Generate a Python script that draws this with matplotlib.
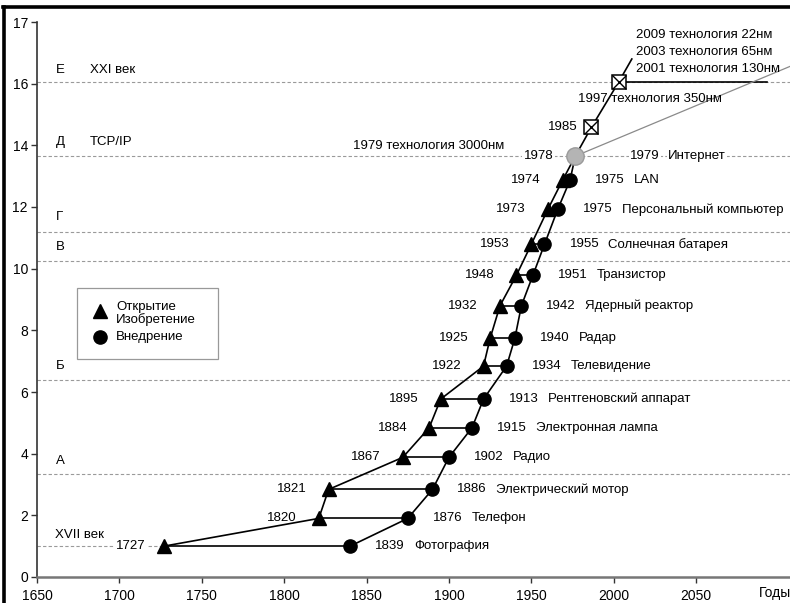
import matplotlib.pyplot as plt
from matplotlib.lines import Line2D
from matplotlib.patches import Rectangle

plt.rcParams['font.family'] = ['Liberation Sans', 'DejaVu Sans']

# discoveries / inventions (triangles)
disc_x = [1727, 1821, 1827, 1872, 1888, 1895, 1921, 1925, 1931, 1941, 1950, 1960, 1969]
disc_labels = ['1727', '1820', '1821', '1867', '1884', '1895', '1922', '1925',
               '1932', '1948', '1953', '1973', '1974']
# implementation (circles)
impl_x = [1840, 1875, 1890, 1900, 1914, 1921, 1935, 1940, 1944, 1951, 1958, 1966, 1973.5]
impl_labels = ['1839', '1876', '1886', '1902', '1915', '1913', '1934', '1940',
               '1942', '1951', '1955', '1975', '1975']
names = ['Фотография', 'Телефон', 'Электрический мотор', 'Радио', 'Электронная лампа',
         'Рентгеновский аппарат', 'Телевидение', 'Радар', 'Ядерный реактор',
         'Транзистор', 'Солнечная батарея', 'Персональный компьютер', 'LAN']
levels = [1.0, 1.9, 2.84, 3.88, 4.84, 5.77, 6.84, 7.74, 8.8, 9.79, 10.79, 11.92, 12.87]

# internet / microelectronics part
net_x = [1976.7, 1986.4, 2003, 2011]
net_y = [13.65, 14.58, 16.05, 16.8]
tech_lines = ['2009 технология 22нм', '2003 технология 65нм', '2001 технология 130нм']

# stage boundaries
stage_levels = [3.34, 6.4, 10.24, 11.2, 13.65, 16.05]
stage_names = [('Е', 'XXI век', 16.44), ('Д', 'TCP/IP', 14.1), ('Г', '', 11.68),
               ('В', '', 10.7), ('Б', '', 6.84), ('А', '', 3.76)]

fig = plt.figure(figsize=(7.9, 6.03), dpi=100)
ax = fig.add_axes([37/790, 26/603, 753/790, 555/603])
ax.set_xlim(1650, 2107)
ax.set_ylim(0, 18)

fs = 9.5
dash = (0, (3, 2))
for lv in stage_levels:
    ax.axhline(lv, color='#9a9a9a', lw=0.8, ls=dash, zorder=1)
ax.plot([1650, 1727], [1.0, 1.0], color='#9a9a9a', lw=0.8, ls=dash, zorder=1)

# chains
ax.plot(disc_x + [net_x[0]], levels + [net_y[0]], color='black', lw=1.2, zorder=2)
ax.plot(impl_x + [net_x[0]], levels + [net_y[0]], color='black', lw=1.2, zorder=2)
for a, b, lv in zip(disc_x, impl_x, levels):
    ax.plot([a, b], [lv, lv], color='black', lw=1.2, zorder=2)
ax.plot(net_x, net_y, color='black', lw=1.2, zorder=2)
ax.plot([net_x[2], 2093], [net_y[2], net_y[2]], color='black', lw=1.2, zorder=2)
ax.plot([net_x[0], 2107], [net_y[0], 16.56], color='#8a8a8a', lw=0.9, zorder=2)

ax.plot(disc_x, levels, ls='none', marker='^', ms=10.5, color='black', zorder=4)
ax.plot(impl_x, levels, ls='none', marker='o', ms=9.5, color='black', zorder=4)
ax.plot(net_x[0], net_y[0], marker='o', ms=12.5, mfc='#b4b4b4', mec='#9a9a9a', zorder=4)
ax.plot(net_x[1:3], net_y[1:3], ls='none', marker='s', ms=9.5, mfc='white', mec='black',
        mew=1.1, zorder=4)
ax.plot(net_x[1:3], net_y[1:3], ls='none', marker='x', ms=9.5, color='black', mew=1.0, zorder=5)

wb = dict(fc='white', ec='none', pad=1)
for i, (a, b, lv) in enumerate(zip(disc_x, impl_x, levels)):
    if i > 0:
        ax.annotate(disc_labels[i], (a, lv), xytext=(-22, 0), textcoords='offset pixels',
                    ha='right', va='center', fontsize=fs)
    ax.annotate(impl_labels[i], (b, lv), xytext=(25, 0),
                textcoords='offset pixels', ha='left', va='center', fontsize=fs)
    ax.annotate(names[i], (b, lv), xytext=(64, 0),
                textcoords='offset pixels', ha='left', va='center', fontsize=fs)
ax.text(1716, 1.0, disc_labels[0], ha='right', va='center', fontsize=fs, bbox=wb, zorder=3)

for i, t in enumerate(tech_lines):
    ax.text(2013.6, 17.58 - 0.55*i, t, ha='left', va='center', fontsize=fs)
ax.text(1978.5, 15.5, '1997 технология 350нм', ha='left', va='center', fontsize=fs)
ax.text(1977.9, 14.6, '1985', ha='right', va='center', fontsize=fs)
ax.text(1963.3, 13.65, '1978', ha='right', va='center', fontsize=fs, bbox=wb, zorder=3)
ax.text(1841.5, 13.98, '1979 технология 3000нм', ha='left', va='center', fontsize=fs)
ax.text(2010, 13.65, '1979', ha='left', va='center', fontsize=fs, bbox=wb, zorder=3)
ax.text(2033, 13.65, 'Интернет', ha='left', va='center', fontsize=fs, bbox=wb, zorder=3)

for letter, word, y in stage_names:
    ax.text(1661.5, y, letter, ha='left', va='center', fontsize=fs)
    if word:
        ax.text(1682, y, word, ha='left', va='center', fontsize=fs)
ax.text(1661, 1.36, 'XVII век', ha='left', va='center', fontsize=fs)

# legend drawn by hand
def fx(px):
    return px / 790

def fy(py):
    return 1 - py / 603

fig.add_artist(Rectangle((fx(77), fy(359)), fx(218) - fx(77), fy(288) - fy(359),
                         transform=fig.transFigure, fill=False, ec='#999999', lw=0.9))
fig.add_artist(Line2D([fx(100)], [fy(311)], marker='^', ms=10.5, color='black',
                      transform=fig.transFigure))
fig.add_artist(Line2D([fx(100)], [fy(337)], marker='o', ms=9.5, color='black',
                      transform=fig.transFigure))
fig.text(fx(116), fy(313.5), 'Открытие\nИзобретение', ha='left', va='center',
         fontsize=fs, linespacing=0.95)
fig.text(fx(116), fy(337), 'Внедрение', ha='left', va='center', fontsize=fs)

ax.set_xticks([1650, 1700, 1750, 1800, 1850, 1900, 1950, 2000, 2050])
ax.set_yticks([0, 2, 4, 6, 8, 10, 12, 14, 16, 18])
ax.set_yticklabels(['0', '2', '4', '6', '8', '10', '12', '14', '16', '17'])
ax.tick_params(axis='both', labelsize=10, length=4.5, width=1.0, color='#333333')
ax.tick_params(axis='x', pad=4)
ax.tick_params(axis='y', pad=2)
ax.spines['top'].set_visible(False)
ax.spines['right'].set_visible(False)
ax.spines['left'].set_color('#333333')
ax.spines['left'].set_linewidth(1.2)
ax.spines['bottom'].set_color('#777777')
ax.spines['bottom'].set_linewidth(1.8)
ax.annotate('Годы', (2088, 0), xytext=(0, -16), textcoords='offset pixels',
            ha='left', va='center', fontsize=10, annotation_clip=False)

# frame of the original picture (top and left edges)
fig.add_artist(Line2D([fx(4), fx(4)], [0, fy(6.5)], color='black', lw=2.6,
                      transform=fig.transFigure))
fig.add_artist(Line2D([fx(2.7), 1], [fy(6.5), fy(6.5)], color='black', lw=2.6,
                      transform=fig.transFigure))

fig.savefig('out.png', dpi=100)
